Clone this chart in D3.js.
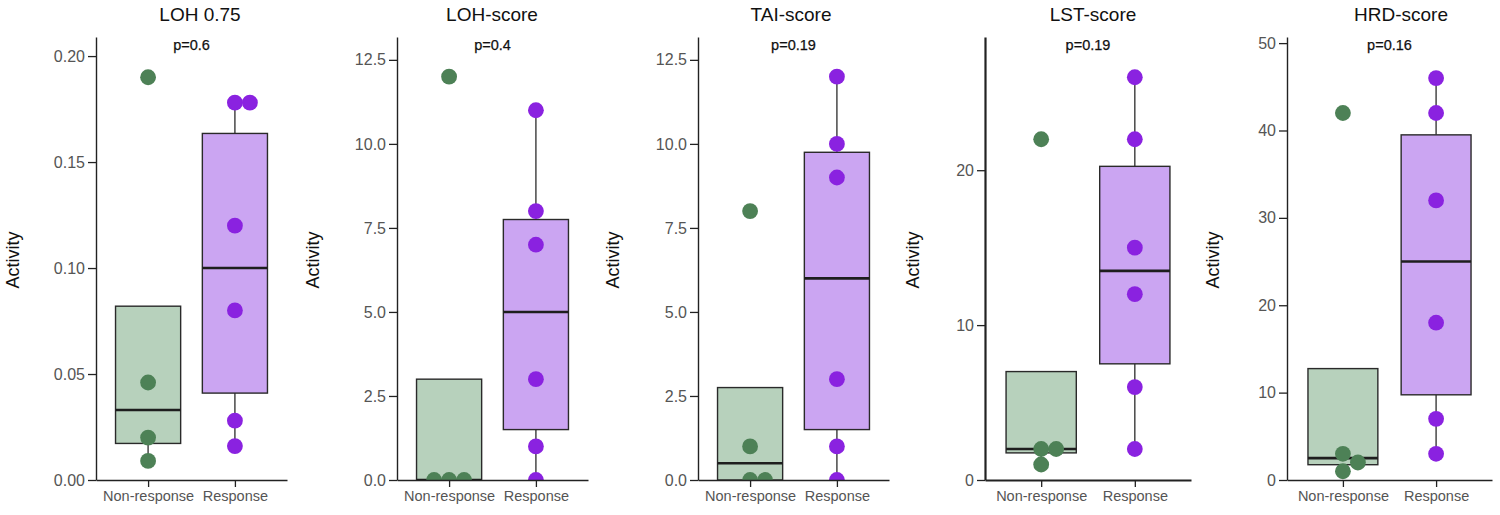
<!DOCTYPE html>
<html lang="en">
<head>
  <meta charset="utf-8">
  <title>HRD boxplots</title>
  <script src="https://d3js.org/d3.v7.min.js"></script>
  <style>
    body { margin: 0; background: #fff; }
    text { font-family: "Liberation Sans", Arial, Helvetica, sans-serif; }
  </style>
</head>
<body>
  <script>

    // chart values
    var groups = ["Non-response", "Response"];
    var metrics = ["LOH 0.75", "LOH-score", "TAI-score", "LST-score", "HRD-score"];
    var pLabels = ["p=0.6", "p=0.4", "p=0.19", "p=0.19", "p=0.16"];
    var nonResponse = [
      [0.19, 0.046, 0.02, 0.009],
      [12, 0, 0, 0],
      [8, 1, 0, 0],
      [22, 2, 2, 1],
      [42, 3, 2, 1]
    ];
    var response = [
      [0.178, 0.178, 0.12, 0.08, 0.028, 0.016],
      [11, 8, 7, 3, 1, 0],
      [12, 10, 9, 3, 1, 0],
      [26, 22, 15, 12, 6, 2],
      [46, 42, 32, 18, 7, 3]
    ];
    var yTicks = [
      [0, 0.05, 0.10, 0.15, 0.20],
      [0, 2.5, 5, 7.5, 10, 12.5],
      [0, 2.5, 5, 7.5, 10, 12.5],
      [0, 10, 20],
      [0, 10, 20, 30, 40, 50]
    ];
    var yMax = [0.209, 13.18, 13.18, 28.6, 50.7];
    var tickFormats = [".2f", ".1f", ".1f", "d", "d"];

    // layout of the five panels
    var w = 1500, h = 515;
    var panelStart = [0, 300, 600, 900, 1200];
    var axisX = [96, 397, 698, 985, 1287];
    var plotW = [191, 191, 191, 206, 205];
    var titleX = [200, 492, 791, 1093, 1401];
    var axisWidth = [1.4, 1.4, 1.4, 2.2, 1.4];
    var plotTop = 37, plotBottom = 480;
    var r = 7.9;

    var fills = ["#b7d1bc", "#cba5f2"];
    var dots = ["#4d8156", "#8a22e0"];

    var svg = d3.select("body")
      .append("svg")
      .attr("width", w)
      .attr("height", h);

    var defs = svg.append("defs");

    // place points so that they don't overlap (simple swarm: centre, right, left, ...)
    function swarm(vals, y, cx) {
      var placed = [];
      var step = 15;
      vals.slice().sort(d3.ascending).forEach(function(v) {
        var py = y(v);
        var offsets = [0, 1, -1, 2, -2, 3, -3];
        for (var k = 0; k < offsets.length; k++) {
          var px = cx + offsets[k] * step;
          var hit = placed.some(function(p) {
            return Math.hypot(p.x - px, p.y - py) < step - 0.5;
          });
          if (!hit) { placed.push({x: px, y: py}); break; }
        }
      });
      return placed;
    }

    function boxStats(vals) {
      var s = vals.slice().sort(d3.ascending);
      var q1 = d3.quantileSorted(s, 0.25),
          med = d3.quantileSorted(s, 0.5),
          q3 = d3.quantileSorted(s, 0.75),
          iqr = q3 - q1;
      var lo = d3.min(s.filter(function(v) { return v >= q1 - 1.5 * iqr; }));
      var hi = d3.max(s.filter(function(v) { return v <= q3 + 1.5 * iqr; }));
      return {q1: q1, med: med, q3: q3, lo: Math.min(lo, q1), hi: Math.max(hi, q3)};
    }

    metrics.forEach(function(name, i) {
      var x0 = axisX[i], x1 = axisX[i] + plotW[i];
      var g = svg.append("g");

      var x = d3.scalePoint().domain(groups).range([x0, x1]).padding(0.6);
      var y = d3.scaleLinear().domain([0, yMax[i]]).range([plotBottom, plotTop]);
      var boxW = x.step() * 0.75;

      defs.append("clipPath").attr("id", "clip" + i)
        .append("rect")
        .attr("x", x0).attr("y", 0)
        .attr("width", plotW[i]).attr("height", plotBottom);

      var panel = g.append("g").attr("clip-path", "url(#clip" + i + ")");
      var sets = [nonResponse[i], response[i]];

      sets.forEach(function(vals, j) {
        var cx = x(groups[j]);
        var st = boxStats(vals);

        // whiskers
        panel.append("line")
          .attr("x1", cx).attr("x2", cx)
          .attr("y1", y(st.q3)).attr("y2", y(st.hi))
          .attr("stroke", "#3a3a3a").attr("stroke-width", 1.4);
        panel.append("line")
          .attr("x1", cx).attr("x2", cx)
          .attr("y1", y(st.q1)).attr("y2", y(st.lo))
          .attr("stroke", "#3a3a3a").attr("stroke-width", 1.4);

        // box
        panel.append("rect")
          .attr("x", cx - boxW / 2)
          .attr("y", y(st.q3))
          .attr("width", boxW)
          .attr("height", y(st.q1) - y(st.q3))
          .attr("fill", fills[j])
          .attr("stroke", "#2a2a2a")
          .attr("stroke-width", 1.4);

        // median
        panel.append("line")
          .attr("x1", cx - boxW / 2).attr("x2", cx + boxW / 2)
          .attr("y1", y(st.med)).attr("y2", y(st.med))
          .attr("stroke", "#1e1e1e").attr("stroke-width", 2.6);

        // points
        panel.selectAll(null)
          .data(swarm(vals, y, cx))
          .enter().append("circle")
          .attr("cx", function(d) { return d.x; })
          .attr("cy", function(d) { return d.y; })
          .attr("r", r)
          .attr("fill", dots[j]);
      });

      // axes
      var yAxis = g.append("g")
        .attr("transform", "translate(" + x0 + ",0)")
        .call(d3.axisLeft(y).tickValues(yTicks[i]).tickFormat(d3.format(tickFormats[i]))
          .tickSize(8).tickSizeOuter(0).tickPadding(3));
      var xAxis = g.append("g")
        .attr("transform", "translate(0," + plotBottom + ")")
        .call(d3.axisBottom(x).tickSize(7).tickSizeOuter(0).tickPadding(4));

      [yAxis, xAxis].forEach(function(a) {
        a.select(".domain").attr("stroke", "#222").attr("stroke-width", axisWidth[i]);
        a.selectAll(".tick line").attr("stroke", "#222").attr("stroke-width", 1.3);
      });
      yAxis.selectAll(".tick text").attr("font-size", 16).attr("fill", "#555")
        .attr("font-family", "Liberation Sans, Arial, sans-serif");
      xAxis.selectAll(".tick text").attr("font-size", 14.5).attr("fill", "#555")
        .attr("font-family", "Liberation Sans, Arial, sans-serif");

      // labels
      g.append("text")
        .attr("x", titleX[i]).attr("y", 21)
        .attr("text-anchor", "middle")
        .attr("font-size", 19).attr("fill", "#111")
        .text(name);

      g.append("text")
        .attr("x", (x0 + x1) / 2).attr("y", 50)
        .attr("text-anchor", "middle")
        .attr("font-size", 14.5).attr("fill", "#111")
        .attr("stroke", "#111").attr("stroke-width", 0.25)
        .text(pLabels[i]);

      g.append("text")
        .attr("transform", "translate(" + (panelStart[i] + 19) + "," + 260 + ") rotate(-90)")
        .attr("text-anchor", "middle")
        .attr("font-size", 18).attr("fill", "#111")
        .text("Activity");
    });

  </script>
</body>
</html>
